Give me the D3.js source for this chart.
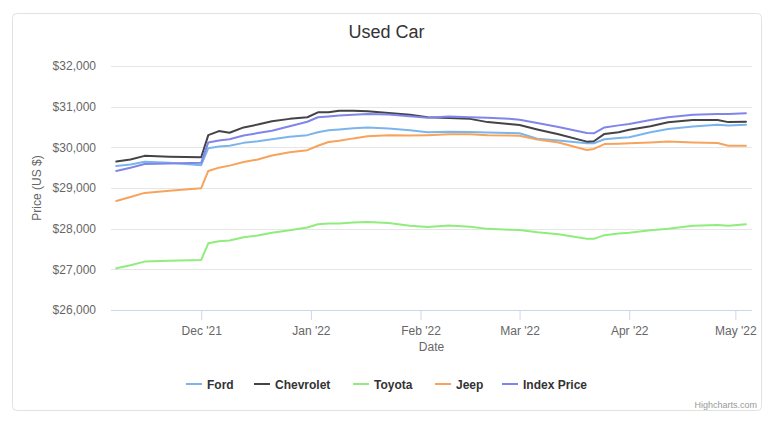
<!DOCTYPE html>
<html>
<head>
<meta charset="utf-8">
<script src="https://cdn.jsdelivr.net/npm/d3@7"></script>
<style>
  body { margin: 0; background: #fff; }
  svg { display: block; font-family: "Liberation Sans", Arial, Helvetica, sans-serif; }
</style>
</head>
<body>
<svg id="chart"></svg>
<script>
const dates = ["2021-11-07", "2021-11-11", "2021-11-15", "2021-11-22", "2021-12-01", "2021-12-03",
  "2021-12-06", "2021-12-09", "2021-12-13", "2021-12-17", "2021-12-21", "2021-12-26", "2021-12-31",
  "2022-01-03", "2022-01-06", "2022-01-09", "2022-01-13", "2022-01-17", "2022-01-23", "2022-01-29",
  "2022-02-03", "2022-02-09", "2022-02-15", "2022-02-20", "2022-02-26", "2022-03-01", "2022-03-06",
  "2022-03-12", "2022-03-20", "2022-03-22", "2022-03-25", "2022-03-29", "2022-04-01", "2022-04-07",
  "2022-04-12", "2022-04-19", "2022-04-26", "2022-04-29", "2022-05-04"];

const ford = [29540, 29580, 29645, 29620, 29560, 29980, 30020, 30040, 30110, 30150, 30200, 30260, 30300,
  30370, 30420, 30440, 30470, 30490, 30465, 30420, 30370, 30385, 30375, 30365, 30350, 30345, 30210,
  30170, 30100, 30100, 30200, 30230, 30250, 30370, 30450, 30515, 30555, 30535, 30555];

const chevrolet = [29650, 29700, 29790, 29770, 29755, 30300, 30400, 30360, 30490, 30560, 30640, 30700, 30740,
  30860, 30860, 30900, 30900, 30890, 30845, 30800, 30740, 30720, 30700, 30620, 30575, 30550, 30440,
  30320, 30140, 30150, 30330, 30370, 30430, 30520, 30615, 30670, 30670, 30620, 30630];

const toyota = [27025, 27100, 27190, 27210, 27230, 27640, 27690, 27710, 27790, 27830, 27900, 27960, 28030,
  28110, 28130, 28130, 28150, 28165, 28140, 28070, 28040, 28075, 28050, 27995, 27975, 27965, 27910,
  27860, 27750, 27750, 27840, 27880, 27900, 27960, 28000, 28070, 28090, 28070, 28110];

const jeep = [28680, 28780, 28880, 28930, 28995, 29420, 29500, 29550, 29640, 29700, 29800, 29880, 29930,
  30040, 30130, 30160, 30220, 30270, 30300, 30290, 30300, 30320, 30320, 30300, 30290, 30285, 30190,
  30120, 29935, 29960, 30080, 30090, 30100, 30120, 30145, 30120, 30105, 30040, 30040];

const indexPrice = [29420, 29500, 29590, 29600, 29620, 30120, 30170, 30200, 30290, 30350, 30410, 30520, 30630,
  30740, 30760, 30780, 30800, 30820, 30805, 30765, 30730, 30760, 30740, 30730, 30700, 30680, 30600,
  30500, 30350, 30345, 30490, 30540, 30575, 30670, 30740, 30800, 30820, 30820, 30840];

const seriesNames = ["Ford", "Chevrolet", "Toyota", "Jeep", "Index Price"];
const seriesColors = ["#7cb5ec", "#434348", "#90ed7d", "#f7a35c", "#8085e9"];
const yTicks = [26000, 27000, 28000, 29000, 30000, 31000, 32000];
const xTicks = ["2021-12-01", "2022-01-01", "2022-02-01", "2022-03-01", "2022-04-01", "2022-05-01"];

const W = 773, H = 422;
const margin = { top: 66, right: 21, bottom: 112, left: 111 },
  width = W - margin.left - margin.right,
  height = H - margin.top - margin.bottom;

const parse = d3.utcParse("%Y-%m-%d");
const fmt = d3.utcFormat("%b '%y");

const svg = d3.select("#chart")
  .attr("width", W)
  .attr("height", H);

// chart frame
svg.append("rect")
  .attr("x", 12.5).attr("y", 13.5)
  .attr("width", 749).attr("height", 397)
  .attr("rx", 4)
  .attr("fill", "#fff")
  .attr("stroke", "#e2e2e2");

const g = svg.append("g")
  .attr("transform", `translate(${margin.left},${margin.top})`);

const x = d3.scaleUtc()
  .domain([new Date(Date.UTC(2021, 10, 5, 12)), new Date(Date.UTC(2022, 4, 5, 17))])
  .range([0, width]);

const y = d3.scaleLinear()
  .domain([26000, 32000])
  .range([height, 0]);

// gridlines
g.selectAll(".grid")
  .data(yTicks.filter(d => d !== 26000))
  .join("line")
  .attr("class", "grid")
  .attr("x1", 0).attr("x2", width)
  .attr("y1", d => Math.round(y(d)) + 0.5)
  .attr("y2", d => Math.round(y(d)) + 0.5)
  .attr("stroke", "#e6e6e6");

// y axis labels
const yAxis = g.append("g")
  .call(d3.axisLeft(y).tickValues(yTicks).tickSize(0).tickPadding(15)
    .tickFormat(d => "$" + d3.format(",")(d)));
yAxis.select(".domain").remove();
yAxis.selectAll("text")
  .attr("fill", "#666")
  .style("font-size", "12px")
  .style("font-family", "inherit");

// x axis
const xAxis = g.append("g")
  .attr("transform", `translate(0,${height})`)
  .call(d3.axisBottom(x).tickValues(xTicks.map(parse)).tickSize(10).tickPadding(6).tickFormat(fmt));
xAxis.select(".domain")
  .attr("stroke", "#ccd6eb")
  .attr("d", `M0,0.5H${width}`);
xAxis.selectAll(".tick line").attr("stroke", "#ccd6eb");
xAxis.selectAll("text")
  .attr("fill", "#666")
  .style("font-size", "12px")
  .style("font-family", "inherit");

// axis titles
g.append("text")
  .attr("x", width / 2)
  .attr("y", height + 41)
  .attr("text-anchor", "middle")
  .attr("fill", "#666")
  .style("font-size", "12px")
  .text("Date");

g.append("text")
  .attr("transform", `translate(${-70},${height / 2}) rotate(-90)`)
  .attr("text-anchor", "middle")
  .attr("fill", "#666")
  .style("font-size", "12px")
  .text("Price (US $)");

// title
svg.append("text")
  .attr("x", W / 2)
  .attr("y", 38)
  .attr("text-anchor", "middle")
  .attr("fill", "#333")
  .style("font-size", "18px")
  .text("Used Car");

// series
const seriesValues = [ford, chevrolet, toyota, jeep, indexPrice];
const series = seriesNames.map((name, i) => ({
  name: name,
  color: seriesColors[i],
  values: dates.map((d, j) => ({ date: parse(d), value: seriesValues[i][j] }))
}));

const line = d3.line()
  .x(d => x(d.date))
  .y(d => y(d.value));

g.selectAll(".series")
  .data(series)
  .join("path")
  .attr("class", "series")
  .attr("d", d => line(d.values))
  .attr("fill", "none")
  .attr("stroke", d => d.color)
  .attr("stroke-width", 2)
  .attr("stroke-linejoin", "round")
  .attr("stroke-linecap", "round");

// legend
const legendX = [186, 254, 353, 435, 502];
const legend = svg.selectAll(".legend-item")
  .data(series)
  .join("g")
  .attr("class", "legend-item")
  .attr("transform", (d, i) => `translate(${legendX[i]},384)`);

legend.append("line")
  .attr("x1", 0).attr("x2", 16)
  .attr("y1", 0).attr("y2", 0)
  .attr("stroke", d => d.color)
  .attr("stroke-width", 2);

legend.append("text")
  .attr("x", 21)
  .attr("y", 4.5)
  .attr("fill", "#333")
  .style("font-size", "12px")
  .style("font-weight", "bold")
  .text(d => d.name);

// credits
svg.append("text")
  .attr("x", 757)
  .attr("y", 408)
  .attr("text-anchor", "end")
  .attr("fill", "#999")
  .style("font-size", "9px")
  .text("Highcharts.com");
</script>
</body>
</html>
